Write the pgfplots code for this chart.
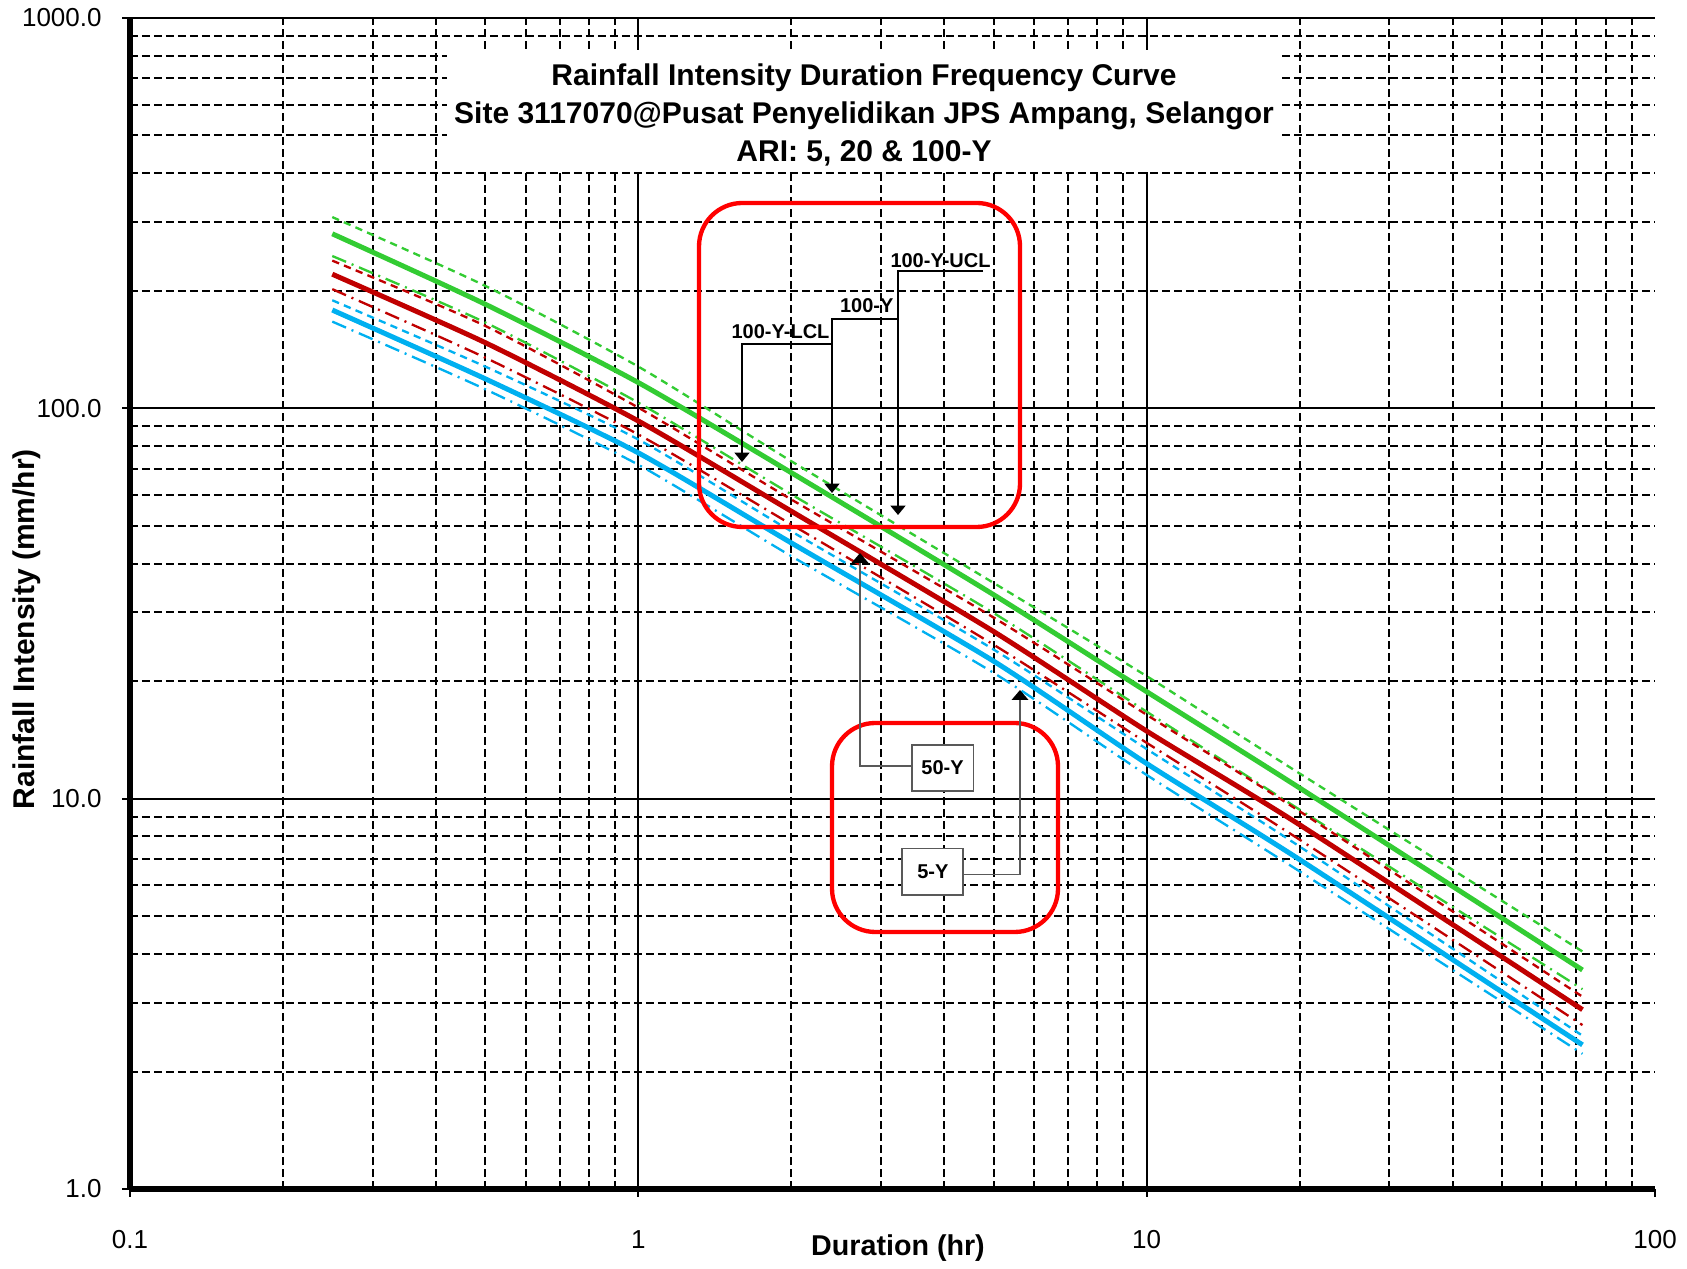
\documentclass[border=0pt]{standalone}
\usepackage{fontspec}
\setmainfont{Liberation Sans}
\usepackage{pgfplots}
\pgfplotsset{compat=1.18}
\usetikzlibrary{arrows.meta}

\definecolor{cGreen}{RGB}{51,204,51}
\definecolor{cRed}{RGB}{192,0,0}
\definecolor{cBlue}{RGB}{0,176,240}

% duration (hr) vs intensity (mm/hr); u = upper, l = lower confidence limit
\pgfplotstableread{
d     g      gu     gl     r      ru     rl     b      bu     bl
0.25  280.0  309.0  245.6  220.6  239.0  202.0  178.6  189.2  166.8
0.5   184.8  205.9  165.9  147.3  162.6  134.8  119.0  127.9  111.9
1     116.4  127.9  103.4  92.8   100.4  85.7   76.9   83.2   71.7
2     68.4   73.2   60.2   54.5   58.4   50.4   45.2   48.4   41.8
5     33.3   35.7   29.9   26.8   29.1   24.8   22.5   24.1   21.0
10    18.8   20.6   16.7   14.9   16.4   13.9   12.3   13.4   11.5
20    10.65  11.6   9.37   8.57   9.28   7.85   6.98   7.54   6.51
72    3.64   4.06   3.25   2.88   3.11   2.63   2.34   2.47   2.22
}\idf

\tikzset{
  main/.style={line width=1.5pt, smooth, tension=0.4},
  ucl/.style={line width=0.7pt, smooth, tension=0.4, dash pattern=on 2.2pt off 1.6pt},
  lcl/.style={line width=0.7pt, smooth, tension=0.4, dash pattern=on 4.5pt off 1.8pt on 0.6pt off 1.8pt},
  tip/.style={-{Triangle[width=4.5pt,length=2.8pt]}},
  gtip/.style={-{Triangle[width=5pt,length=3pt,color=black,fill=black]}},
}

\begin{document}
\begin{tikzpicture}
\begin{axis}[
    at={(0,0)}, anchor=south west,
    scale only axis, width=457.5pt, height=351.3pt,
    xmode=log, ymode=log,
    xmin=0.1, xmax=100, ymin=1, ymax=1000,
    axis lines=left, axis line style={-, line width=1.8pt},
    xtick={0.1,1,10}, xticklabels={0.1,1,10},
    extra x ticks={100}, extra x tick labels={100}, extra x tick style={grid=none},
    ytick={1,10,100,1000}, yticklabels={1.0,10.0,100.0,1000.0},
    minor xtick={0.2,0.3,0.4,0.5,0.6,0.7,0.8,0.9,2,3,4,5,6,7,8,9,20,30,40,50,60,70,80,90},
    minor ytick={2,3,4,5,6,7,8,9,20,30,40,50,60,70,80,90,200,300,400,500,600,700,800,900},
    grid=both,
    major grid style={black, line width=0.6pt, solid},
    minor grid style={black, line width=0.6pt, dash pattern=on 2.4pt off 1.2pt},
    tick align=outside, major tick length=2.4pt, minor tick length=0pt,
    tick style={black, line width=0.6pt},
    tick label style={font=\fontsize{7.8}{9}\selectfont},
    xticklabel style={yshift=-6.5pt},
    yticklabel style={xshift=-2.6pt},
    xlabel={Duration (hr)},
    ylabel={Rainfall Intensity  (mm/hr)},
    xlabel style={at={(axis description cs:0.5036,-0.0504)}, anchor=center,
                  font=\fontsize{8.6}{10}\selectfont\bfseries},
    ylabel style={at={(axis description cs:-0.0675,0.478)}, anchor=center,
                  font=\fontsize{9}{10}\selectfont\bfseries},
  ]
  \addplot[cGreen, ucl] table[x=d, y=gu] {\idf};
  \addplot[cGreen, lcl] table[x=d, y=gl] {\idf};
  \addplot[cRed, ucl] table[x=d, y=ru] {\idf};
  \addplot[cRed, lcl] table[x=d, y=rl] {\idf};
  \addplot[cBlue, ucl] table[x=d, y=bu] {\idf};
  \addplot[cBlue, lcl] table[x=d, y=bl] {\idf};
  \addplot[cGreen, main] table[x=d, y=g] {\idf};
  \addplot[cRed, main] table[x=d, y=r] {\idf};
  \addplot[cBlue, main] table[x=d, y=b] {\idf};
\end{axis}

% annotations, in pixels of the 1687x1268 picture
\begin{scope}[x=0.3pt, y=-0.3pt, shift={(-130,-1189)}]
  \fill[white] (447,50) rectangle (1280,172);
  \node[align=center, font=\fontsize{9}{11.3}\selectfont\bfseries] at (864,115)
    {Rainfall Intensity Duration Frequency Curve\\
     Site 3117070@Pusat Penyelidikan JPS Ampang, Selangor\\
     ARI: 5, 20 \& 100-Y};

  \draw[red, line width=1.3pt, rounded corners=13pt] (699,203) rectangle (1020,527);
  \draw[red, line width=1.3pt, rounded corners=13pt] (832,723) rectangle (1058,932);

  \begin{scope}[font=\fontsize{6}{7}\selectfont\bfseries]
    \node[anchor=base, inner sep=0pt] at (940.5,268) {100-Y-UCL};
    \node[anchor=base, inner sep=0pt] at (866.7,312.7) {100-Y};
    \node[anchor=base, inner sep=0pt] at (780.5,338.3) {100-Y-LCL};
    \draw[black, line width=0.45pt, tip] (983,271) -- (898,271) -- (898,515);
    \draw[black, line width=0.45pt, tip] (898,319) -- (832,319) -- (832,493);
    \draw[black, line width=0.45pt, tip] (832,344) -- (742,344) -- (742,462);

    \draw[gray!70!black, line width=0.45pt, gtip] (911.7,766) -- (860,766) -- (860,553);
    \draw[gray!70!black, line width=0.45pt, gtip] (963.3,874.3) -- (1020,874.3) -- (1020,690);
    \node[draw=gray!70!black, fill=white, line width=0.5pt, inner sep=0pt,
          minimum width=18.5pt, minimum height=13.7pt] at (942.5,768) {50-Y};
    \node[draw=gray!70!black, fill=white, line width=0.5pt, inner sep=0pt,
          minimum width=18.3pt, minimum height=14pt] at (932.8,871.7) {5-Y};
  \end{scope}

  \pgfresetboundingbox
  \useasboundingbox (0,0) rectangle (1687,1268);
\end{scope}
\end{tikzpicture}
\end{document}
